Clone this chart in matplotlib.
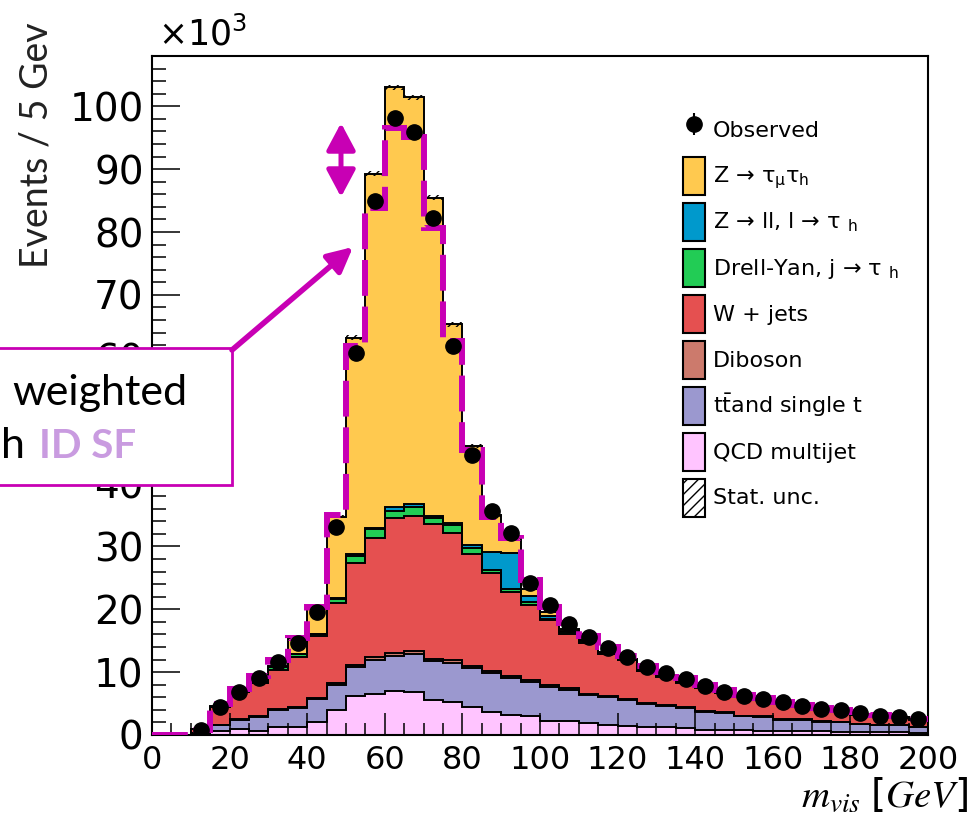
import numpy as np
import matplotlib.pyplot as plt
from matplotlib.patches import Patch, Rectangle, FancyArrowPatch
from matplotlib.ticker import MultipleLocator

plt.rcParams['mathtext.default'] = 'regular'
plt.rcParams['hatch.linewidth'] = 1.0

# m_vis bins, 5 GeV wide; all yields in thousands of events
bin_edges = list(range(0, 205, 5))

qcd = [0, 0, 0.1, 0.7, 0.9, 0.7, 1.3, 1.2, 2.1, 4.0, 6.2, 6.6, 7.0, 6.9, 5.6, 5.3, 4.5, 3.7, 3.2, 3.0,
       2.2, 2.2, 1.9, 1.6, 1.4, 1.3, 1.3, 1.1, 0.8, 0.8, 0.8, 0.7, 0.7, 0.6, 0.6, 0.5, 0.5, 0.4, 0.4, 0.3]
ttbar = [0, 0, 0.2, 0.9, 1.5, 2.2, 2.7, 3.1, 3.6, 4.0, 4.6, 5.4, 5.6, 6.0, 6.2, 6.2, 6.2, 6.2, 5.9, 5.4,
         5.5, 5.0, 4.5, 4.4, 4.2, 3.6, 3.3, 3.2, 2.9, 2.7, 2.2, 2.2, 1.7, 1.8, 1.5, 1.5, 1.2, 1.2, 1.2, 1.0]
diboson = [0, 0, 0.02, 0.05, 0.08, 0.1, 0.12, 0.15, 0.2, 0.3, 0.4, 0.4, 0.4, 0.4, 0.35, 0.4, 0.3, 0.3, 0.3, 0.3,
           0.25, 0.22, 0.2, 0.18, 0.16, 0.15, 0.13, 0.12, 0.1, 0.1, 0.09, 0.08, 0.07, 0.07, 0.06, 0.06, 0.05, 0.05, 0.05, 0.04]
wjets = [0, 0, 0.6, 2.8, 4.3, 5.3, 6.2, 8.0, 9.8, 12.7, 16.2, 19.0, 21.5, 21.6, 21.4, 20.3, 17.8, 15.6, 13.4, 12.0,
         10.3, 8.7, 8.0, 6.7, 6.1, 5.1, 4.5, 3.9, 3.7, 3.1, 3.0, 2.6, 2.4, 2.0, 1.9, 1.6, 1.4, 1.2, 1.1, 1.1]
dy_jet = [0, 0, 0, 0.05, 0.05, 0.05, 0.5, 0.5, 0.3, 0.7, 1.1, 1.3, 1.2, 1.4, 0.9, 1.2, 1.0, 0.5, 0.5, 0.5,
          0.2, 0.2, 0.3, 0.1, 0.1, 0.1, 0.1, 0.1, 0.1, 0.1, 0.05, 0.05, 0.05, 0.05, 0.05, 0.05, 0.05, 0.05, 0.05, 0.05]
z_ll = [0, 0, 0, 0, 0, 0, 0, 0, 0, 0.1, 0.3, 0.3, 0.5, 0.5, 0.4, 0.3, 0.5, 2.8, 5.6, 0.9,
        0.5, 0.3, 0.2, 0.1, 0.1, 0.1, 0.05, 0.05, 0.05, 0.05, 0.03, 0.03, 0.03, 0.03, 0.03, 0.03, 0.03, 0.03, 0.03, 0.03]
z_tautau = [0, 0, 0, 0.05, 0.05, 0.05, 0.1, 2.4, 4.2, 12.9, 34.4, 56.3, 66.8, 64.6, 50.6, 31.6, 15.7, 5.9, 2.6, 1.1,
            0.6, 0.3, 0.2, 0.2, 0.1, 0.1, 0.1, 0.1, 0.1, 0.1, 0.05, 0.05, 0.05, 0.05, 0.05, 0.05, 0.05, 0.05, 0.05, 0.05]
stat_unc = [0, 0, 0.05, 0.1, 0.1, 0.1, 0.15, 0.15, 0.2, 0.25, 0.35, 0.4, 0.45, 0.45, 0.4, 0.35, 0.3, 0.25, 0.25, 0.2,
            0.2, 0.15, 0.15, 0.15, 0.1, 0.1, 0.1, 0.1, 0.1, 0.1, 0.1, 0.1, 0.1, 0.1, 0.1, 0.1, 0.1, 0.1, 0.1, 0.1]
observed = [0, 0, 0.8, 4.4, 6.9, 9.0, 11.6, 14.6, 19.6, 33.1, 60.8, 84.9, 98.1, 95.9, 82.3, 61.8, 44.6, 35.7, 32.2, 24.2,
            20.7, 17.7, 15.6, 13.9, 12.4, 10.8, 9.9, 8.9, 7.8, 6.9, 6.2, 5.7, 5.3, 4.6, 4.1, 4.0, 3.5, 3.0, 2.9, 2.5]
# prediction weighted with the ID scale factor (dashed magenta)
weighted = [0, 0, 0.8, 4.9, 7.3, 9.4, 11.9, 15.5, 20.4, 35.0, 61.8, 83.9, 96.5, 95.1, 80.6, 62.6, 45.3, 34.7, 31.4, 24.6,
            20.4, 17.8, 15.8, 14.0, 12.6, 11.0, 10.0, 9.0, 8.0, 7.1, 6.4, 5.9, 5.3, 4.8, 4.3, 4.0, 3.6, 3.2, 3.0, 2.6]

samples = [qcd, ttbar, diboson, wjets, dy_jet, z_ll, z_tautau]
colors = ['#ffc4ff', '#9b98cf', '#cc7a6c', '#e55050', '#22cc55', '#0099cc', '#ffc94f']
labels = ['QCD multijet', 't$\\bar{t}$and single t', 'Diboson', 'W + jets',
          'Drell-Yan, j \u2192 \u03c4 $_{h}$', 'Z \u2192 ll, l \u2192 \u03c4 $_{h}$', 'Z \u2192 \u03c4$_{\\mu}$\u03c4$_{h}$']
magenta = '#c800b4'

W, H = 974, 817
def fx(px):
    return px / W
def fy(py):
    return 1 - py / H

fig = plt.figure(figsize=(W / 100, H / 100), dpi=100)
ax = fig.add_axes([fx(152), fy(735), fx(928) - fx(152), fy(56) - fy(735)])
ax.set_axisbelow(False)

edges = np.array(bin_edges)
centers = (edges[:-1] + edges[1:]) / 2
bottom = np.zeros(len(observed))
tops = []
for vals, col in zip(samples, colors):
    top = bottom + np.array(vals)
    ax.stairs(top, edges, baseline=bottom, fill=True, color=col, zorder=1)
    tops.append(top)
    bottom = top
for top in tops:
    ax.stairs(top, edges, baseline=None, color='black', lw=1.4, zorder=1.5)

total = bottom
unc = np.array(stat_unc)
ax.bar(centers, 2 * unc, bottom=total - unc, width=5, fill=False, hatch='////',
       linewidth=0, edgecolor='black', zorder=1.6)

ax.stairs(weighted, edges, baseline=None, color=magenta, lw=4.3,
          linestyle=(0, (6, 1.8)), zorder=3)

obs = np.array(observed)
m = obs > 0
err = np.sqrt(obs * 1000) / 1000
data = ax.errorbar(centers[m], obs[m], yerr=err[m], fmt='o', color='black', ms=11,
                   elinewidth=1.5, capsize=0, zorder=4)

ax.set_xlim(0, 200)
ax.set_ylim(0, 108)
ax.xaxis.set_major_locator(MultipleLocator(20))
ax.xaxis.set_minor_locator(MultipleLocator(5))
ax.yaxis.set_major_locator(MultipleLocator(10))
ax.yaxis.set_minor_locator(MultipleLocator(2))
ax.tick_params(which='both', direction='in', top=False, right=False, width=1.1)
ax.tick_params(axis='y', which='major', length=20, labelsize=28, pad=6)
ax.tick_params(axis='y', which='minor', length=10)
ax.tick_params(axis='x', which='major', length=16, labelsize=23, pad=7)
ax.tick_params(axis='x', which='minor', length=8.5)
for s in ax.spines.values():
    s.set_linewidth(1.5)

handles = [data]
for i in range(len(samples) - 1, -1, -1):
    handles.append(Patch(facecolor=colors[i], edgecolor='black', lw=1.5))
handles.append(Patch(facecolor='white', edgecolor='black', hatch='///', lw=1.5))
leg_labels = ['Observed'] + labels[::-1] + ['Stat. unc.']
ax.legend(handles, leg_labels, loc='upper left', bbox_to_anchor=(fx(683), fy(111)),
          bbox_transform=fig.transFigure, frameon=False, fontsize=16,
          handlelength=1.0, handleheight=2.25, handletextpad=0.35, labelspacing=0.36,
          borderpad=0, borderaxespad=0)

fig.text(fx(158), fy(45), '\u00d710$^{3}$', fontsize=25, va='baseline')
fig.text(fx(37), fy(22), 'Events / 5 Gev', rotation=90, ha='center', va='top',
         fontsize=27, family='Lato', color='#222222')
fig.text(fx(968), fy(807), r'$\mathit{m_{vis}}\ [\mathit{GeV}]$', ha='right', va='baseline',
         fontsize=28, math_fontfamily='stix')

# annotation box, cut off at the left edge; it hides the y labels behind it
fig.canvas.draw()
for lbl in ax.get_yticklabels():
    if lbl.get_text() == '50':
        lbl.set_visible(False)
box = Rectangle((fx(-20), fy(485)), fx(252), (485 - 348) / H, transform=fig.transFigure,
                facecolor='white', edgecolor=magenta, lw=2, zorder=5)
fig.add_artist(box)
fig.text(fx(12), fy(405), 'weighted', fontsize=31, family='Lato', va='baseline', zorder=6)
fig.text(fx(25), fy(458), 'h', fontsize=31, family='Lato', va='baseline', ha='right', zorder=6)
fig.text(fx(39), fy(458), 'ID SF', fontsize=29, family='Lato', weight='bold', color='#c99be0',
         va='baseline', zorder=6)

fig.add_artist(FancyArrowPatch((fx(232), fy(350)), (fx(353), fy(247)), transform=fig.transFigure,
                               arrowstyle='-|>,head_length=1.0,head_width=0.5', mutation_scale=15,
                               lw=4, color=magenta, shrinkA=0, shrinkB=0, zorder=6))
fig.add_artist(FancyArrowPatch((fx(341), fy(197)), (fx(341), fy(123)), transform=fig.transFigure,
                               arrowstyle='<|-|>,head_length=0.75,head_width=0.4', mutation_scale=22,
                               lw=3.6, color=magenta, shrinkA=0, shrinkB=0, zorder=6))

fig.savefig('out.png', dpi=100)
